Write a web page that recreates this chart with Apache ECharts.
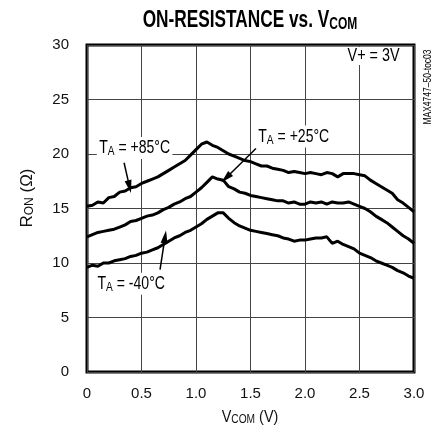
<!DOCTYPE html>
<html><head><meta charset="utf-8">
<script src="https://cdn.jsdelivr.net/npm/echarts@6/dist/echarts.min.js"></script>
<style>html,body{margin:0;padding:0;background:#fff}#c{width:431px;height:430px}</style>
</head><body><div id="c"></div>
<script>
var vcom = [0.00,0.05,0.10,0.15,0.20,0.25,0.30,0.35,0.40,0.45,0.50,0.55,0.60,0.65,0.70,0.75,0.80,0.85,0.90,0.95,1.00,1.05,1.10,1.15,1.20,1.25,1.30,1.35,1.40,1.45,1.50,1.55,1.60,1.65,1.70,1.75,1.80,1.85,1.90,1.95,2.00,2.05,2.10,2.15,2.20,2.25,2.30,2.35,2.40,2.45,2.50,2.55,2.60,2.65,2.70,2.75,2.80,2.85,2.90,2.95,3.00];
var ron85 = [15.2,15.3,15.6,15.5,16.0,16.1,16.5,16.6,16.9,17.0,17.3,17.5,17.7,17.9,18.2,18.5,18.8,19.1,19.4,19.9,20.4,20.9,21.1,20.8,20.6,20.3,20.0,19.8,19.6,19.4,19.3,19.1,18.9,18.9,18.7,18.6,18.5,18.3,18.4,18.3,18.2,18.3,18.2,18.1,18.3,18.2,17.9,18.2,18.2,18.2,18.1,18.0,17.6,17.3,17.0,16.7,16.4,15.8,15.5,15.1,14.7];
var ron25 = [12.4,12.6,12.8,12.9,13.0,13.1,13.3,13.5,13.8,13.9,14.1,14.3,14.4,14.6,14.9,15.1,15.4,15.6,15.9,16.1,16.5,16.9,17.4,17.9,17.7,17.6,17.0,16.8,16.5,16.4,16.2,16.1,16.0,15.9,15.8,15.7,15.7,15.5,15.6,15.4,15.4,15.6,15.5,15.6,15.4,15.6,15.5,15.5,15.6,15.4,15.2,15.0,14.7,14.3,14.0,13.7,13.3,12.9,12.5,12.2,11.8];
var ronM40 = [9.6,9.8,9.7,10.0,10.0,10.2,10.3,10.4,10.6,10.7,10.9,11.0,11.2,11.4,11.7,12.0,12.3,12.5,12.8,13.0,13.3,13.6,14.0,14.3,14.6,14.6,14.1,13.7,13.4,13.2,13.0,12.9,12.8,12.7,12.6,12.5,12.3,12.2,12.0,12.1,12.1,12.2,12.3,12.3,12.4,11.8,12.0,11.7,11.5,11.3,10.9,10.7,10.5,10.2,10.0,9.8,9.6,9.3,9.1,8.8,8.6];
var xTicks = ['0','0.5','1.0','1.5','2.0','2.5','3.0'];
var yTicks = ['0','5','10','15','20','25','30'];
var labels = [
  {main:'T', sub:'A', rest:' = +85°C', at:[0.09,20.55], tail:[0.34,19.2], head:[0.39,17.0]},
  {main:'T', sub:'A', rest:' = +25°C', at:[1.55,21.6], tail:[1.55,20.5], head:[1.275,17.8]},
  {main:'T', sub:'A', rest:' = -40°C', at:[0.075,8.1], tail:[0.67,9.4], head:[0.716,12.4]}
];

var FONT = "'Liberation Sans',Arial,sans-serif";
function pair(a){ return vcom.map(function(v,i){ return [v,a[i]]; }); }
var chart = echarts.init(document.getElementById('c'), null, {renderer:'canvas'});
function ser(name, arr){
  return {name:name, type:'line', data:pair(arr), showSymbol:false, symbol:'none',
    lineStyle:{color:'#000', width:3}, animation:false, z:3};
}
var s0 = ser('85', ron85);
s0.markLine = {silent:true, symbol:['none','triangle'], symbolSize:[7,13], animation:false,
  lineStyle:{color:'#000', width:1.5, type:'solid'}, label:{show:false},
  data: labels.map(function(l){ return [{coord:l.tail},{coord:l.head}]; })};
var option = {
  animation:false,
  backgroundColor:'#fff',
  grid:{left:87, right:17, top:45, bottom:58, show:true, borderColor:'#000', borderWidth:3, backgroundColor:'transparent'},
  xAxis:{type:'value', min:0, max:3, interval:0.5,
    axisLine:{show:false}, axisTick:{show:false},
    axisLabel:{fontFamily:FONT, fontSize:15, color:'#111', margin:14,
      formatter:function(v){ return xTicks[Math.round(v/0.5)]; }},
    splitLine:{show:true, lineStyle:{color:'#444', width:1}}},
  yAxis:{type:'value', min:0, max:30, interval:5,
    axisLine:{show:false}, axisTick:{show:false},
    axisLabel:{fontFamily:FONT, fontSize:15, color:'#111', margin:18,
      formatter:function(v){ return yTicks[Math.round(v/5)]; }},
    splitLine:{show:true, lineStyle:{color:'#444', width:1}}},
  series:[s0, ser('25', ron25), ser('-40', ronM40)]
};
chart.setOption(option);

function buildGraphics(){
  var g = [];
  g.push({type:'text', x:250, y:21, scaleX:0.75, z:10,
    style:{text:'{b|ON-RESISTANCE vs. V}{s|COM}', align:'center', verticalAlign:'middle',
      rich:{b:{fontFamily:FONT, fontWeight:'bold', fontSize:23, fill:'#000'},
            s:{fontFamily:FONT, fontWeight:'bold', fontSize:16, fill:'#000', padding:[8,0,0,0]}}}});
  g.push({type:'text', x:250, y:417, scaleX:0.85, z:10,
    style:{text:'{m|V}{s|COM}{m| (V)}', align:'center', verticalAlign:'middle',
      rich:{m:{fontFamily:FONT, fontSize:17, fill:'#111'}, s:{fontFamily:FONT, fontSize:12, fill:'#111', padding:[6,0,0,0]}}}});
  g.push({type:'text', x:27, y:198, rotation:Math.PI/2, z:10,
    style:{text:'{m|R}{s|ON}{m| (Ω)}', align:'center', verticalAlign:'middle',
      rich:{m:{fontFamily:FONT, fontSize:17, fill:'#111'}, s:{fontFamily:FONT, fontSize:12, fill:'#111', padding:[6,0,0,0]}}}});
  labels.forEach(function(l){
    var p = chart.convertToPixel({gridIndex:0}, l.at);
    g.push({type:'text', x:p[0], y:p[1], scaleX:0.78, z:10,
      style:{text:'{m|'+l.main+'}{s|'+l.sub+'}{m|'+l.rest+'}', verticalAlign:'middle', align:'left',
        backgroundColor:'#fff', padding:[1,3,1,3],
        rich:{m:{fontFamily:FONT, fontSize:18, fill:'#000'}, s:{fontFamily:FONT, fontSize:13, fill:'#000', padding:[7,0,0,0]}}}});
  });
  g.push({type:'text', x:402, y:56, scaleX:0.8, z:10,
    style:{text:'V+ = 3V', align:'right', verticalAlign:'middle', fontFamily:FONT, fontSize:18, fill:'#000', backgroundColor:'#fff', padding:[0,3,0,3]}});
  g.push({type:'text', x:428, y:87, rotation:Math.PI/2, scaleX:0.85, z:10,
    style:{text:'MAX4747–50-toc03', align:'center', verticalAlign:'middle', fontFamily:FONT, fontSize:10, fill:'#000'}});
  chart.setOption({graphic:g});
}
buildGraphics();
</script>
</body></html>
